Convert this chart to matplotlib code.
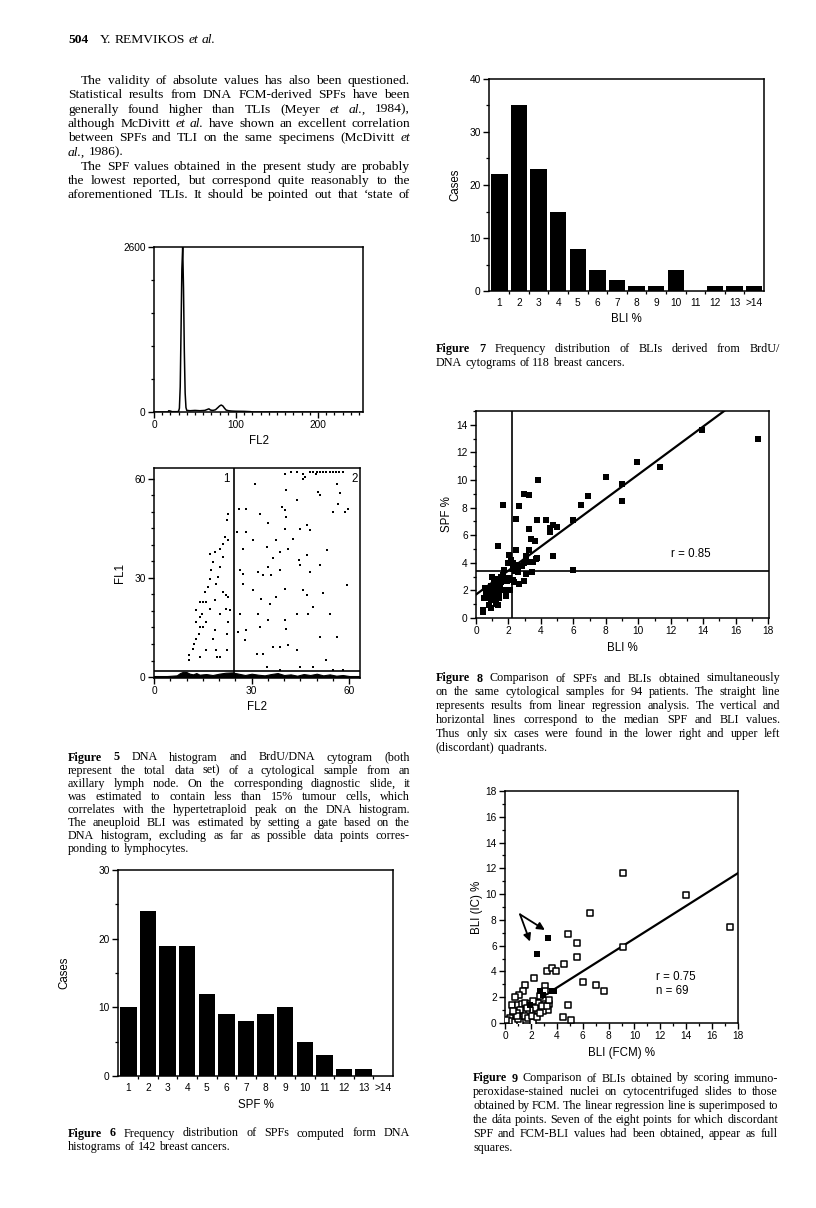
import numpy as np
import matplotlib.pyplot as plt
from matplotlib.ticker import MultipleLocator, FixedLocator

plt.rcParams['font.family'] = ['Liberation Sans', 'DejaVu Sans']
SERIF = ['Liberation Serif', 'DejaVu Serif']

# ---- data ----
# Fig 5 top: DNA histogram (channel, count)
dna_ch = [0, 17, 18, 20, 22, 28, 30, 31, 32, 33, 34, 35, 36, 37, 38, 39, 40, 44, 50, 56,
          62, 65, 67, 69, 72, 75, 78, 80, 82, 84, 86, 88, 91, 95, 100, 110, 118, 120, 255]
dna_cnt = [0, 0, 20, 15, 5, 5, 10, 60, 400, 1300, 2250, 2600, 1950, 950, 300, 70, 25, 20, 25, 20,
           25, 40, 50, 30, 25, 35, 70, 95, 110, 95, 60, 30, 20, 15, 12, 10, 5, 0, 0]

# Fig 5 bottom: BrdU/DNA cytogram dots (FL2, FL1)
cyto_x = [10.8, 10.9, 12.0, 12.3, 13.0, 13.7, 14.1, 13.0, 14.1, 14.6, 12.8, 14.1, 15.1, 16.1, 15.6,
          16.7, 17.1, 17.6, 18.2, 17.1, 18.7, 20.2, 21.3, 21.8, 22.3, 22.6, 22.8, 21.3, 20.2, 19.7,
          19.2, 21.3, 22.1, 22.8, 18.7, 17.1, 20.2, 22.1, 23.3, 16.1, 15.1, 18.7, 18.2, 16.1, 19.2,
          22.3, 19.4, 14.1, 22.3, 22.8, 20.2,
          26.2, 28.4, 25.6, 28.4, 27.4, 30.5, 30.9, 40.2, 45.8, 49.9, 45.8, 40.7, 43.9, 39.2, 40.7,
          35.1, 40.2, 44.8, 46.9, 48.0, 37.6, 34.6, 36.6, 38.8, 41.3, 42.8, 46.9, 53.3, 35.1, 33.5,
          36.1, 38.8, 44.8, 47.9, 51.0, 32.0, 27.4, 30.5, 33.0, 37.6, 40.2, 45.8, 46.9, 51.9, 59.2,
          26.4, 32.0, 35.6, 35.1, 40.2, 40.7, 43.8, 47.4, 54.0, 48.9, 27.9, 31.5, 33.5, 36.6, 38.8,
          41.2, 43.8, 53.0, 56.1, 51.0, 34.6, 38.7, 44.8, 48.9, 55.1, 58.2, 56.6, 58.7, 55.1, 57.1,
          56.1, 59.7, 51.0, 50.5, 46.3, 40.2, 32.5, 26.4, 27.4, 44.6, 25.8, 28.4, 32.5,
          42, 44, 48, 49, 50, 51, 52, 53, 54, 55, 56, 57, 58]
cyto_y = [5.1, 6.6, 8.6, 9.9, 11.6, 13.1, 15.2, 16.7, 18.2, 19.2, 20.2, 22.7, 22.7, 22.7, 25.8,
          27.3, 29.8, 32.3, 34.8, 37.4, 37.9, 38.9, 40.4, 42.4, 47.5, 49.5, 41.4, 36.4, 33.3, 30.3,
          28.3, 25.8, 24.7, 24.2, 23.2, 20.7, 19.2, 20.7, 20.2, 16.7, 15.2, 14.1, 11.6, 8.1, 8.1,
          8.1, 6.1, 6.1, 13.1, 16.7, 6.1,
          51.0, 51.0, 43.9, 43.9, 38.9, 41.4, 58.6, 61.6, 61.6, 61.6, 60.1, 56.6, 53.5, 51.5, 48.5,
          46.5, 44.9, 44.9, 46.0, 44.4, 41.4, 39.4, 35.9, 37.9, 38.9, 41.9, 36.9, 38.4, 33.3, 30.8,
          30.8, 32.3, 33.8, 31.8, 33.8, 31.8, 31.3, 26.3, 23.6, 24.2, 26.8, 26.3, 24.7, 25.3, 27.8,
          19.2, 19.2, 22.2, 17.2, 17.2, 14.6, 19.2, 19.2, 19.2, 21.2, 11.1, 7.1, 7.1, 9.1, 9.1,
          9.6, 8.1, 5.1, 12.1, 12.1, 3.0, 2.0, 3.0, 3.0, 2.0, 2.0, 52.5, 50.0, 50.0, 55.6,
          58.6, 51.0, 55.0, 56.1, 60.6, 50.5, 49.5, 32.3, 28.3, 35.4, 13.6, 14.1, 15.2,
          62, 62, 62, 62, 62, 62, 62, 62, 62, 62, 62, 62, 62]
# lymphocyte band along the bottom of the cytogram
band_x = [0, 4, 7, 8, 9, 10, 11, 12, 13, 14, 16, 18, 20, 22, 24, 26, 28, 30, 32, 34, 36, 38,
          40, 42, 44, 46, 48, 50, 52, 54, 56, 58, 60, 63]
band_y = [0.3, 0.3, 0.5, 1.2, 1.6, 1.5, 1.0, 0.8, 1.2, 0.7, 0.9, 0.6, 1.0, 1.3, 1.4, 1.0, 0.6,
          1.0, 0.7, 0.5, 0.9, 1.2, 0.6, 0.8, 0.4, 0.9, 0.6, 1.0, 0.5, 0.8, 0.4, 0.6, 0.3, 0.3]
gate_fl2 = 24.5
gate_fl1 = 1.9

# Fig 6 / Fig 7 frequency distributions
classes = ['1', '2', '3', '4', '5', '6', '7', '8', '9', '10', '11', '12', '13', '>14']
spf_cases = [10, 24, 19, 19, 12, 9, 8, 9, 10, 5, 3, 1, 1, 0]
bli_cases = [22, 35, 23, 15, 8, 4, 2, 1, 1, 4, 0, 1, 1, 1]

# Fig 8: SPF vs BLI
bli8 = [17.4, 13.95, 11.36, 9.92, 9.01, 9.01, 7.98, 6.93, 6.44, 5.97,
        5.97, 4.98, 4.77, 4.77, 4.53, 4.57, 4.32, 3.81, 3.77, 3.70,
        3.66, 3.40, 3.46, 3.29, 2.98, 3.29, 3.29, 2.63, 2.47, 2.47,
        1.69, 1.38, 3.09, 2.94, 3.15, 3.50, 3.74, 2.26, 2.06, 2.16,
        2.51, 2.57, 2.98, 3.09, 2.67, 2.26, 2.10, 1.89, 1.75, 1.85,
        1.95, 1.75, 1.54, 1.30, 1.13, 0.93, 0.74, 0.62, 0.41, 0.41,
        0.82, 0.93, 1.23, 1.34, 1.44, 1.03, 1.23, 0.82, 1.13, 1.38,
        1.54, 1.13, 1.65, 1.85, 0.86, 0.72, 0.93, 0.62, 0.47, 1.17,
        1.40, 1.48, 0.99, 1.13, 1.34, 2.26, 2.43, 2.67, 2.84, 1.65,
        2.06, 1.00, 0.55, 2.35]
spf8 = [13.0, 13.6, 10.95, 11.27, 9.72, 8.51, 10.2, 8.83, 8.22, 7.13,
        3.5, 6.58, 6.77, 4.52, 6.53, 6.21, 7.13, 10.03, 7.08, 4.30,
        5.56, 5.73, 3.31, 8.9, 8.95, 6.48, 4.96, 8.10, 7.18, 4.96,
        8.22, 5.20, 4.47, 3.99, 4.04, 4.04, 4.35, 3.99, 4.55, 4.23,
        3.87, 3.31, 2.66, 3.22, 2.47, 2.78, 2.0, 2.66, 2.06, 1.57,
        3.99, 3.5, 3.0, 2.85, 2.54, 2.30, 2.06, 1.45, 0.6, 0.41,
        0.97, 0.73, 1.04, 0.97, 1.45, 1.81, 1.81, 1.57, 1.45, 2.30,
        2.59, 2.78, 2.73, 2.83, 1.81, 1.81, 1.33, 1.81, 1.45, 2.49,
        1.81, 2.42, 2.18, 2.06, 2.0, 3.55, 3.38, 3.75, 3.75, 3.14,
        2.90, 3.0, 2.2, 2.6]
fit8 = (1.7, 0.87)          # intercept, slope
median_bli = 2.22
median_spf = 3.39

# Fig 9: BLI (IC) vs BLI (FCM)
fcm9 = [9.13, 14.0, 17.4, 6.56, 4.83, 5.55, 5.6, 9.13, 4.52, 3.26,
        3.6, 3.93, 2.24, 6.02, 7.04, 7.66, 4.83, 4.45, 5.09, 1.54,
        1.41, 1.08, 0.77, 3.08, 3.08, 0.51, 1.03, 1.29, 1.54, 1.93,
        2.57, 3.08, 3.42, 3.34, 2.96, 2.57, 2.31, 1.93, 1.67, 1.41,
        1.16, 0.9, 0.64, 0.39, 0.18, 0.51, 0.77, 1.16, 1.03, 1.54,
        1.8, 2.13, 2.06, 2.44, 2.7, 0.95, 0.64, 1.67, 2.19, 2.83,
        3.21, 3.42, 2.7]
ic9 = [11.6, 9.93, 7.43, 8.51, 6.94, 6.24, 5.11, 5.93, 4.59, 4.0,
       4.28, 4.0, 3.48, 3.17, 2.97, 2.5, 1.42, 0.46, 0.26, 2.97,
       2.5, 2.14, 1.99, 2.84, 2.45, 1.37, 1.37, 1.47, 1.55, 1.47,
       1.55, 1.5, 1.5, 1.03, 0.9, 0.9, 1.16, 1.03, 0.83, 0.9,
       1.03, 0.77, 0.52, 0.39, 0.21, 0.13, 0.05, 0.05, 0.31, 0.52,
       0.39, 0.08, 0.52, 0.46, 0.77, 0.52, 0.9, 1.16, 1.68, 1.29,
       1.29, 1.81, 2.06]
fcm9_full = [3.29, 2.47, 2.70, 2.95, 3.60, 3.75, 1.90]
ic9_full = [6.63, 5.36, 2.50, 2.20, 2.45, 2.50, 1.40]
fit9 = (0.2, 0.635)
arrow_from = (1.16, 8.43)
arrow_to = [(3.08, 7.22), (1.93, 6.32)]

# ---- page text ----
head_y = 43
body = [
    ["The validity of absolute values has also been questioned.",
     "Statistical results from DNA FCM-derived SPFs have been",
     "generally found higher than TLIs (Meyer _et _al., 1984),",
     "although McDivitt _et _al. have shown an excellent correlation",
     "between SPFs and TLI on the same specimens (McDivitt _et",
     "_al., 1986)."],
    ["The SPF values obtained in the present study are probably",
     "the lowest reported, but correspond quite reasonably to the",
     "aforementioned TLIs. It should be pointed out that ‘state of"],
]
cap5 = ["^Figure ^5 DNA histogram and BrdU/DNA cytogram (both",
        "represent the total data set) of a cytological sample from an",
        "axillary lymph node. On the corresponding diagnostic slide, it",
        "was estimated to contain less than 15% tumour cells, which",
        "correlates with the hypertetraploid peak on the DNA histogram.",
        "The aneuploid BLI was estimated by setting a gate based on the",
        "DNA histogram, excluding as far as possible data points corres-",
        "ponding to lymphocytes."]
cap6 = ["^Figure ^6 Frequency distribution of SPFs computed form DNA",
        "histograms of 142 breast cancers."]
cap7 = ["^Figure ^7 Frequency distribution of BLIs derived from BrdU/",
        "DNA cytograms of 118 breast cancers."]
cap8 = ["^Figure ^8 Comparison of SPFs and BLIs obtained simultaneously",
        "on the same cytological samples for 94 patients. The straight line",
        "represents results from linear regression analysis. The vertical and",
        "horizontal lines correspond to the median SPF and BLI values.",
        "Thus only six cases were found in the lower right and upper left",
        "(discordant) quadrants."]
cap9 = ["^Figure ^9 Comparison of BLIs obtained by scoring immuno-",
        "peroxidase-stained nuclei on cytocentrifuged slides to those",
        "obtained by FCM. The linear regression line is superimposed to",
        "the dáta points. Seven of the eight points for which discordant",
        "SPF and FCM-BLI values had been obtained, appear as full",
        "squares."]

BODY_SIZE = 9.7
CAP_SIZE = 8.7

W, H = 816, 1208
fig = plt.figure(figsize=(W / 100, H / 100), dpi=100)
fig.patch.set_facecolor('white')
rend = fig.canvas.get_renderer()


def box(l, t, r, b):
    return fig.add_axes([l / W, 1 - b / H, (r - l) / W, (b - t) / H])


def frame(ax):
    for s in ax.spines.values():
        s.set_linewidth(1.1)
    ax.tick_params(direction='out', length=4, width=1, labelsize=7.3, pad=2)
    ax.tick_params(which='minor', direction='out', length=2.5, width=0.9)


def put_line(x0, x1, y, line, size, justify):
    arts = []
    for tok in line.split(' '):
        st, wt = 'normal', 'normal'
        if tok.startswith('_'):
            tok, st = tok[1:], 'italic'
        elif tok.startswith('^'):
            tok, wt = tok[1:], 'bold'
        arts.append(fig.text(x0 / W, 1 - y / H, tok, fontsize=size, family=SERIF,
                             style=st, weight=wt, va='baseline', ha='left'))
    ws = [a.get_window_extent(rend).width for a in arts]
    sp = size * 0.25 * 100 / 72
    if justify and len(arts) > 1:
        sp = max((x1 - x0 - sum(ws)) / (len(arts) - 1), 1.5)
    x = x0
    for a, w in zip(arts, ws):
        a.set_x(x / W)
        x += w + sp


def block(x0, x1, y0, step, lines, size, indent=0, open_end=False):
    for i, ln in enumerate(lines):
        last = (i == len(lines) - 1) and not open_end
        put_line(x0 + (indent if i == 0 else 0), x1, y0 + i * step, ln, size, not last)


# header and body text
fig.text(68 / W, 1 - head_y / H, '504', fontsize=BODY_SIZE, family=SERIF, weight='bold',
         va='baseline')
put_line(100, 400, head_y, 'Y. REMVIKOS _et _al.', BODY_SIZE, False)
block(68, 410, 84, 14.3, body[0], BODY_SIZE, indent=13)
block(68, 410, 84 + 6 * 14.3, 14.3, body[1], BODY_SIZE, indent=13, open_end=True)

block(68, 410, 760.5, 13.1, cap5, CAP_SIZE)
block(68, 410, 1136.5, 13.8, cap6, CAP_SIZE)
block(436, 780, 352.5, 13.8, cap7, CAP_SIZE)
block(436, 780, 681.5, 13.8, cap8, CAP_SIZE)
block(473, 778, 1081.5, 13.9, cap9, CAP_SIZE)

# ---- Fig 5 top: DNA histogram ----
ax = box(154, 247, 363, 412)
frame(ax)
ax.plot(dna_ch, dna_cnt, color='black', lw=1.1)
ax.set_xlim(0, 255)
ax.set_ylim(0, 2600)
ax.set_xticks([0, 100, 200])
ax.xaxis.set_minor_locator(MultipleLocator(10))
ax.set_yticks([0, 2600])
ax.yaxis.set_minor_locator(MultipleLocator(520))
ax.set_xlabel('FL2', fontsize=8.3, labelpad=3)

# ---- Fig 5 bottom: cytogram ----
ax = box(154, 468, 360, 678)
frame(ax)
ax.scatter(cyto_x, cyto_y, s=1.3, marker='s', color='black', lw=0)
ax.fill_between(band_x, 0, band_y, color='black', lw=0.8)
ax.axvline(gate_fl2, color='black', lw=1.2)
ax.axhline(gate_fl1, color='black', lw=1.2)
ax.set_xlim(0, 63.3)
ax.set_ylim(-0.3, 63.3)
ax.set_xticks([0, 30, 60])
ax.set_yticks([0, 30, 60])
ax.xaxis.set_minor_locator(MultipleLocator(5))
ax.yaxis.set_minor_locator(MultipleLocator(5))
ax.text(gate_fl2 - 1.2, 60, '1', fontsize=8.3, ha='right', va='center')
ax.text(62.6, 60, '2', fontsize=8.3, ha='right', va='center')
ax.set_xlabel('FL2', fontsize=8.3, labelpad=3)
ax.set_ylabel('FL1', fontsize=8.3, labelpad=6)


def freq(ax, vals, top, label, ypad):
    frame(ax)
    pos = np.arange(len(classes))
    ax.bar(pos, vals, width=0.84, color='black')
    ax.set_xlim(-0.53, 13.5)
    ax.set_ylim(0, top)
    ax.set_xticks(pos)
    ax.set_xticklabels(classes)
    ax.tick_params(axis='x', which='major', length=0, pad=5)
    ax.xaxis.set_minor_locator(FixedLocator(pos[:-1] + 0.5))
    ax.yaxis.set_major_locator(MultipleLocator(10))
    ax.yaxis.set_minor_locator(MultipleLocator(5))
    ax.set_xlabel(label, fontsize=8.3, labelpad=4)
    ax.set_ylabel('Cases', fontsize=8.3, labelpad=ypad)


# ---- Fig 6 ----
ax = box(118, 870, 393, 1076)
freq(ax, spf_cases, 30, 'SPF %', 20)

# ---- Fig 7 ----
ax = box(489, 79, 764, 291)
freq(ax, bli_cases, 40, 'BLI %', 6)

# ---- Fig 8 ----
ax = box(476, 411, 769, 618)
frame(ax)
ax.scatter(bli8, spf8, s=16, marker='s', color='black', lw=0)
ax.axline((0, fit8[0]), slope=fit8[1], color='black', lw=1.6)
ax.axvline(median_bli, color='black', lw=1.2)
ax.axhline(median_spf, color='black', lw=1.2)
ax.set_xlim(0, 18.05)
ax.set_ylim(0, 15)
ax.xaxis.set_major_locator(MultipleLocator(2))
ax.xaxis.set_minor_locator(MultipleLocator(1))
ax.set_yticks(np.arange(0, 15, 2))
ax.yaxis.set_minor_locator(MultipleLocator(1))
ax.text(12.0, 4.64, 'r = 0.85', fontsize=8.3, va='center')
ax.set_xlabel('BLI %', fontsize=8.3, labelpad=4)
ax.set_ylabel('SPF %', fontsize=8.3, labelpad=2.5)

# ---- Fig 9 ----
ax = box(505, 791, 738, 1023)
frame(ax)
ax.scatter(fcm9, ic9, s=18, marker='s', facecolor='white', edgecolor='black', lw=1.1, zorder=3)
ax.scatter(fcm9_full, ic9_full, s=22, marker='s', color='black', lw=0, zorder=4)
ax.axline((0, fit9[0]), slope=fit9[1], color='black', lw=1.6)
for tgt in arrow_to:
    ax.annotate('', xy=tgt, xytext=arrow_from,
                arrowprops=dict(arrowstyle='-|>', color='black', lw=1.3, mutation_scale=11,
                                shrinkA=0, shrinkB=0))
ax.set_xlim(0, 18)
ax.set_ylim(0, 18)
ax.xaxis.set_major_locator(MultipleLocator(2))
ax.xaxis.set_minor_locator(MultipleLocator(1))
ax.yaxis.set_major_locator(MultipleLocator(2))
ax.yaxis.set_minor_locator(MultipleLocator(1))
ax.text(11.7, 3.6, 'r = 0.75', fontsize=8.3, va='center')
ax.text(11.7, 2.45, 'n = 69', fontsize=8.3, va='center')
ax.set_xlabel('BLI (FCM) %', fontsize=8.3, labelpad=4)
ax.set_ylabel('BLI (IC) %', fontsize=8.3, labelpad=2)

fig.savefig('out.png', dpi=100, facecolor='white')
